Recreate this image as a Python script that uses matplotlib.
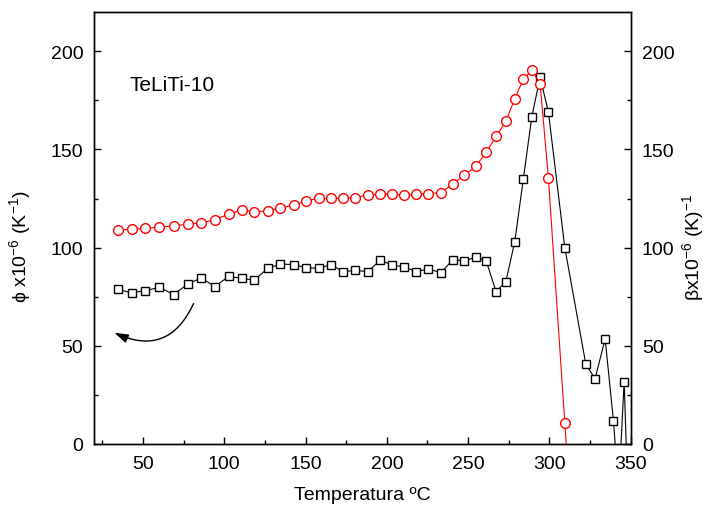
import matplotlib
matplotlib.use('Agg')
import matplotlib.pyplot as plt
from matplotlib.ticker import MultipleLocator

plt.rcParams['font.family'] = ['Liberation Sans', 'DejaVu Sans']
plt.rcParams['mathtext.fontset'] = 'custom'
plt.rcParams['mathtext.rm'] = 'Liberation Sans'
plt.rcParams['mathtext.it'] = 'Liberation Sans:italic'

# temperatures (ºC) shared by both series
temp = [34.3, 42.9, 51.5, 60.1, 68.8, 77.4, 85.8, 94.2, 102.6, 110.8,
        118.4, 126.8, 134.4, 142.6, 150.4, 158.2, 165.6, 173.1, 180.7, 188.3,
        195.9, 203.3, 210.6, 218.2, 225.6, 233.2, 240.6, 247.7, 254.8, 261.1,
        267.2, 273.2, 278.7, 284.0, 289.2, 294.3, 299.4, 309.5]

# black squares, phi x10^-6 (left axis)
temp_phi = temp + [322.4, 328.1, 334.3, 339.4, 342.6, 346.0, 348.7]
phi = [78.8, 77.0, 78.1, 79.8, 76.1, 81.4, 84.6, 80.2, 85.3, 84.4,
       83.4, 89.5, 91.6, 91.4, 89.7, 89.5, 91.4, 87.7, 88.5, 87.7,
       93.6, 91.1, 90.2, 87.7, 89.2, 87.2, 93.8, 93.3, 95.1, 93.3,
       77.6, 82.7, 103.0, 135.2, 166.7, 186.8, 169.0, 99.9,
       40.7, 33.2, 53.5, 11.9, -24.0, 31.8, -37.0]

# red circles, beta x10^-6 (right axis)
temp_beta = temp + [314.5]
beta = [108.9, 109.4, 109.8, 110.5, 111.0, 112.0, 112.5, 114.3, 117.0, 119.2,
        118.3, 118.6, 120.2, 121.5, 123.9, 125.1, 125.1, 125.1, 125.5, 126.8,
        127.3, 127.2, 126.7, 127.3, 127.5, 128.0, 132.4, 136.9, 141.5, 148.6,
        156.6, 164.3, 175.8, 185.9, 190.3, 183.4, 135.3, 10.6, -50.0]

fig = plt.figure(figsize=(7.11, 5.10), dpi=100)
ax = fig.add_axes([0.1326, 0.1275, 0.7544, 0.847])
ax2 = ax.twinx()

ax.plot(temp_phi, phi, color='black', lw=0.8, marker='s', ms=6,
        mfc='white', mec='black', mew=1.0)
ax2.plot(temp_beta, beta, color='red', lw=0.8, marker='o', ms=7,
         mfc='white', mec='red', mew=1.0)

for a in (ax, ax2):
    a.set_xlim(20, 350)
    a.set_ylim(0, 220)
    a.yaxis.set_major_locator(MultipleLocator(50))
    a.yaxis.set_minor_locator(MultipleLocator(25))
    for s in a.spines.values():
        s.set_linewidth(1.0)

ax.xaxis.set_major_locator(MultipleLocator(50))
ax.xaxis.set_minor_locator(MultipleLocator(25))
ax.tick_params(which='both', direction='in', top=False, right=False,
               labelsize=14, width=1.0, pad=8)
ax.tick_params(which='major', length=5)
ax.tick_params(which='minor', length=3)
ax2.tick_params(which='both', direction='in', labelsize=14, width=1.0, pad=8)
ax2.tick_params(which='major', length=5)
ax2.tick_params(which='minor', length=3)

ax.set_xlabel('Temperatura ºC', fontsize=14, labelpad=10)
ax.set_ylabel('ϕ x10$^{-6}$ (K$^{-1}$)', fontsize=14)
ax.yaxis.set_label_coords(-0.114, 0.458)
ax2.set_ylabel('βx10$^{-6}$ (K)$^{-1}$', fontsize=14, rotation=90)
ax2.yaxis.set_label_coords(1.092, 0.458)
ax2.yaxis.label.set_va('top')

ax.text(0.065, 0.833, 'TeLiTi-10', transform=ax.transAxes, fontsize=15,
        va='center', ha='left')

ax.annotate('', xy=(32.3, 56.7), xytext=(81.1, 71.5),
            arrowprops=dict(arrowstyle='-|>,head_length=0.7,head_width=0.22',
                            connectionstyle='arc3,rad=-0.5', color='black',
                            lw=1.0, shrinkA=0, shrinkB=0, mutation_scale=12))

fig.savefig('out.png', dpi=100)
